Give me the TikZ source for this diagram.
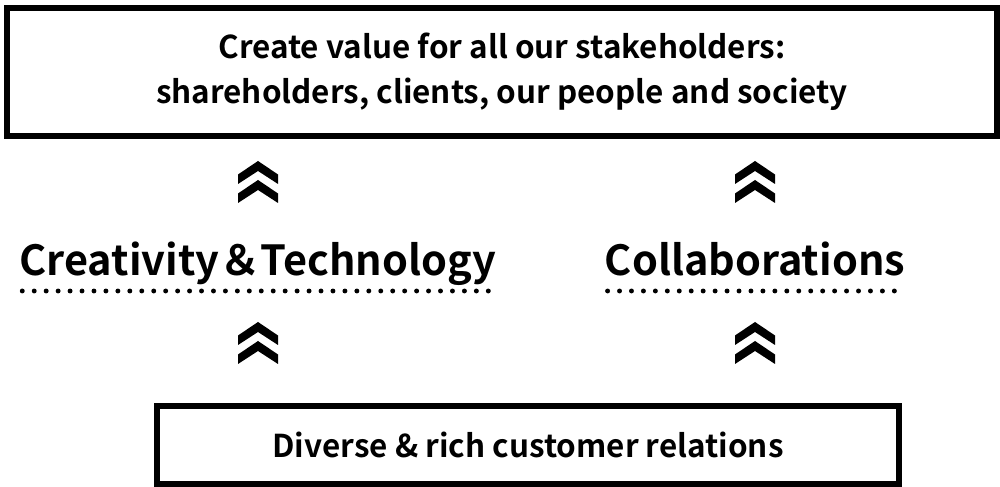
\documentclass[tikz,border=0pt]{standalone}
\usepackage{fontspec}
\setmainfont{Noto Sans CJK JP}[BoldFont={Noto Sans CJK JP Bold}]
\usetikzlibrary{positioning, calc}

\begin{document}
\begin{tikzpicture}[
    goal/.style={rectangle, draw=black, line width=3.4pt, minimum width=19.8cm, minimum height=2.56cm, align=center, font=\fontsize{17.9}{25.5}\selectfont\bfseries},
    base/.style={rectangle, draw=black, line width=3.4pt, minimum width=14.84cm, minimum height=1.56cm, font=\fontsize{17.9}{20}\selectfont\bfseries},
    pillar/.style={inner sep=0pt, anchor=base, font=\fontsize{23.6}{28}\selectfont\bfseries},
    dots/.style={line width=2.8pt, line cap=round, dash pattern=on 0pt off 6.8pt},
    chev/.pic={
      \foreach \dy in {0,-0.38}
        \fill[black] (0,\dy) -- ++(-0.4,-0.27) -- ++(0,-0.19) -- ++(0.4,0.26) -- ++(0.4,-0.26) -- ++(0,0.19) -- cycle;
    }
  ]
    \useasboundingbox (0,0) rectangle (20,9.74);

    \node[goal] (goal) at (10.04,8.30) {Create value for all our stakeholders:\\shareholders, clients, our people and society};
    \node[base] (rel) at (10.56,0.84) {Diverse \& rich customer relations};
    \node[pillar] (tech) at (5.16,4.22) {Creativity＆Technology};
    \node[pillar] (collab) at (15.1,4.22) {Collaborations};

    % dotted underlines
    \draw[dots] ([xshift=0.06cm, yshift=-0.30cm]tech.base west) -- ([xshift=-0.16cm, yshift=-0.30cm]tech.base east);
    \draw[dots] ([xshift=0.06cm, yshift=-0.30cm]collab.base west) -- ([xshift=-0.06cm, yshift=-0.30cm]collab.base east);

    % double chevrons
    \path (tech.base) ++(0,2.30) pic {chev};
    \path (collab.base) ++(0,2.30) pic {chev};
    \path (tech.base) ++(0,-0.92) pic {chev};
    \path (collab.base) ++(0,-0.92) pic {chev};
  \end{tikzpicture}
\end{document}
